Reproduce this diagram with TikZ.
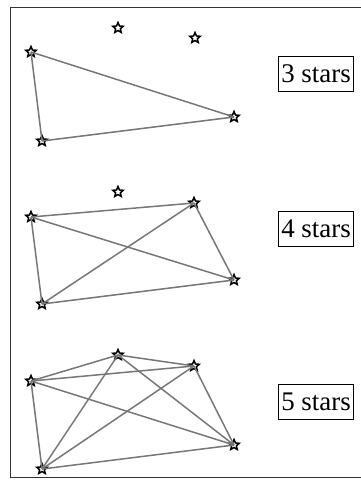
\documentclass[tikz,border=0pt]{standalone}
\usepackage{fontspec}
\setmainfont{Liberation Serif}
\usetikzlibrary{shapes.geometric}
\definecolor{frameink}{HTML}{333333}
\definecolor{edgegray}{HTML}{777777}
\tikzset{
  starnode/.style={star, star points=5, star point ratio=2.2, draw=black, fill=white, line width=1.5bp, minimum size=11bp, inner sep=0pt},
  edge/.style={draw=edgegray, line width=1.5bp},
  tag/.style={draw=black, line width=0.9bp, inner xsep=3bp, minimum height=35bp, font=\fontsize{27}{30}\selectfont},
  frame/.style={draw=frameink, line width=0.9bp},
}
\begin{document}
\begin{tikzpicture}[x=1bp, y=-1bp]
  \useasboundingbox (0,0) rectangle (360,489);
  \draw[frame] (10,7) rectangle (370,477);
  % panel 1: three stars
  \node[starnode] (a1) at (118,28) {};
  \node[starnode] (a2) at (195,38) {};
  \node[starnode] (a3) at (31,52) {};
  \node[starnode] (a4) at (42,141) {};
  \node[starnode] (a5) at (234,117) {};
  \foreach \u/\v in {a3/a5,a5/a4,a4/a3} { \draw[edge] (\u.center) -- (\v.center); }
  \node[tag] (t3) at (316,74) {3 stars};
  % panel 2: four stars
  \node[starnode] (b1) at (118,192) {};
  \node[starnode] (b2) at (194,203) {};
  \node[starnode] (b3) at (31,217) {};
  \node[starnode] (b4) at (42,304) {};
  \node[starnode] (b5) at (234,280) {};
  \foreach \u/\v in {b3/b2,b3/b5,b3/b4,b4/b2,b4/b5,b2/b5} { \draw[edge] (\u.center) -- (\v.center); }
  \node[tag] (t4) at (316,229) {4 stars};
  % panel 3: five stars
  \node[starnode] (c1) at (118,355) {};
  \node[starnode] (c2) at (194,366) {};
  \node[starnode] (c3) at (31,381) {};
  \node[starnode] (c4) at (42,469) {};
  \node[starnode] (c5) at (234,445) {};
  \foreach \u/\v in {c1/c2,c1/c3,c1/c4,c1/c5,c2/c3,c2/c4,c2/c5,c3/c4,c3/c5,c4/c5} { \draw[edge] (\u.center) -- (\v.center); }
  \node[tag] (t5) at (316,402) {5 stars};
\end{tikzpicture}
\end{document}
